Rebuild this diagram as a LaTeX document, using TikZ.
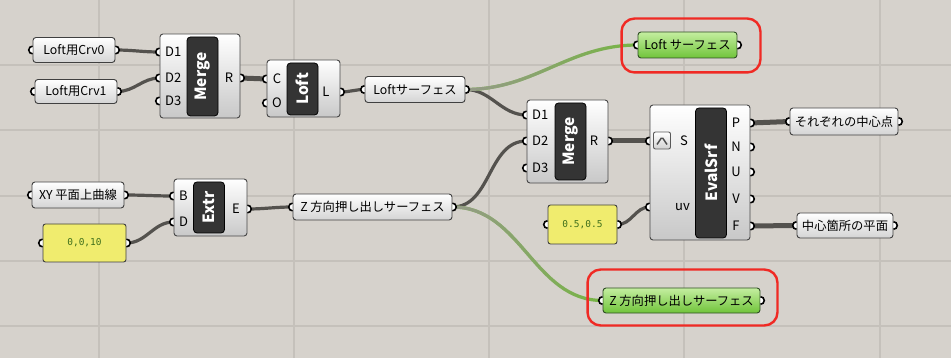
\documentclass[tikz,border=0pt]{standalone}
\usepackage{fontspec}
\setmainfont{Noto Sans CJK JP}
\newfontfamily\numfont{DejaVu Sans Mono}
\usetikzlibrary{calc,fadings}

\definecolor{canvas}{RGB}{214,210,204}
\definecolor{gridc}{RGB}{197,193,187}
\definecolor{wirec}{RGB}{84,82,78}
\definecolor{wiregreen}{RGB}{118,182,66}
\definecolor{wiregray}{RGB}{150,154,138}
\definecolor{panelbot}{RGB}{212,212,212}
\definecolor{compbot}{RGB}{200,200,200}
\definecolor{barc}{RGB}{52,52,52}
\definecolor{yelc}{RGB}{240,236,110}
\definecolor{numc}{RGB}{64,112,28}
\definecolor{greentop}{RGB}{196,238,160}
\definecolor{greenbot}{RGB}{112,196,58}
\definecolor{greenedge}{RGB}{48,78,38}
\definecolor{hilitec}{RGB}{240,42,36}

\tikzfading[name=wirefade, left color=transparent!0, right color=transparent!100]

\tikzset{
  gridline/.style={draw=gridc, line width=1.3pt},
  panel/.style={draw=black!75, line width=0.9pt, rounded corners=3pt, top color=white, bottom color=panelbot,
    minimum height=25, inner sep=0pt, font=\fontsize{12.3}{14}\selectfont},
  outpanel/.style={panel, draw=greenedge, top color=greentop, bottom color=greenbot},
  numpanel/.style={draw=black!75, line width=0.9pt, rounded corners=2.5pt, fill=yelc, inner sep=0pt,
    text=numc, font=\numfont\fontsize{9.5}{11}\selectfont},
  comp/.style={draw=black!72, line width=0.9pt, rounded corners=3pt, top color=white, bottom color=compbot, inner sep=0pt},
  nick/.style={fill=barc, draw=black, line width=0.8pt, rounded corners=3.5pt, inner sep=0pt, rotate=90,
    minimum height=31, text=white, font=\fontsize{15.5}{17}\selectfont\bfseries},
  port/.style={inner sep=0pt, font=\fontsize{13}{15}\selectfont},
  grip/.style={draw=black, line width=1.6pt, fill=white},
  wire/.style={draw=wirec, line width=3.2pt},
  thickwire/.style={draw=wirec, line width=5pt},
  greenwire/.style={draw=wiregreen, line width=3.2pt},
  hilite/.style={draw=hilitec, line width=2.4pt, rounded corners=13pt}
}

\newcommand\gripin[1]{\draw[grip] ([yshift=3.8pt]#1) arc[start angle=90,end angle=270,radius=3.8pt];}
\newcommand\gripout[1]{\draw[grip] ([yshift=3.8pt]#1) arc[start angle=90,end angle=-90,radius=3.8pt];}

\begin{document}
\begin{tikzpicture}[x=1pt,y=-1pt]
	\fill[canvas] (0,0) rectangle (951,358);
	\useasboundingbox (0,0) rectangle (951,358);
	\foreach \gx in {99,294,489,684,880}
		\draw[gridline] (\gx,0) -- (\gx,358);
	\foreach \gy in {65,130,196,261,326}
		\draw[gridline] (0,\gy) -- (951,\gy);
	
	% panels
	\node[panel, minimum width=82] (crv0) at (74,50) {Loft用Crv0};
	\node[panel, minimum width=82, minimum height=24] (crv1) at (76,91.5) {Loft用Crv1};
	\node[panel, minimum width=100, minimum height=26] (loftsurf) at (415,89.5) {Loftサーフェス};
	\node[panel, minimum width=92, minimum height=26] (xy) at (78,195) {XY 平面上曲線};
	\node[panel, minimum width=159, minimum height=26] (zsurf) at (372.5,207) {Z 方向押し出しサーフェス};
	\node[panel, minimum width=108, minimum height=27] (pts) at (844,121.5) {それぞれの中心点};
	\node[panel, minimum width=96] (pln) at (845,225.5) {中心箇所の平面};
	\node[outpanel, minimum width=99, minimum height=26] (gloft) at (687.5,45) {Loft サーフェス};
	\node[outpanel, minimum width=157] (gz) at (681.5,300.5) {Z 方向押し出しサーフェス};
	\node[numpanel, minimum width=83, minimum height=38] (vec) at (84.5,243) {0,0,10};
	\node[numpanel, minimum width=69, minimum height=39] (uvval) at (582.5,224.5) {0.5,0.5};
	
	% components
	\node[comp, minimum width=80, minimum height=84] (mrg1) at (200,76) {};
	\node[nick, minimum width=79] (mrg1bar) at (202.5,76.5) {Merge};
	\node[port, anchor=west] (m1d1) at (165,52) {D1};
	\node[port, anchor=west] (m1d2) at (165,78) {D2};
	\node[port, anchor=west] (m1d3) at (165,101) {D3};
	\node[port] (m1r) at (229,78) {R};
	
	\node[comp, minimum width=73, minimum height=57] (loft) at (303.5,88.5) {};
	\node[nick, minimum width=52] (loftbar) at (302.5,89) {Loft};
	\node[port] (lc) at (277,79) {C};
	\node[port] (lo) at (277,103) {O};
	\node[port] (ll) at (326,92) {L};
	
	\node[comp, minimum width=81, minimum height=83] (mrg2) at (567.5,141.5) {};
	\node[nick, minimum width=77] (mrg2bar) at (570.5,141.5) {Merge};
	\node[port, anchor=west] (m2d1) at (532,115) {D1};
	\node[port, anchor=west] (m2d2) at (532,141) {D2};
	\node[port, anchor=west] (m2d3) at (532,168) {D3};
	\node[port] (m2r) at (594,141) {R};
	
	\node[comp, minimum width=73, minimum height=57] (extr) at (210.5,207.5) {};
	\node[nick, minimum width=51] (extrbar) at (209,207.5) {Extr};
	\node[port, anchor=west] (eb) at (179,196) {B};
	\node[port, anchor=west] (ed) at (179,222) {D};
	\node[port] (ee) at (236,209) {E};
	
	\node[comp, minimum width=100, minimum height=135] (eval) at (700,172.5) {};
	\node[nick, minimum width=130] (evalbar) at (711,173) {EvalSrf};
	\node[draw=black!65, line width=0.9pt, top color=white, bottom color=black!18, rounded corners=2pt,
		minimum size=17, inner sep=0pt] (rep) at (662,140.5) {};
	\draw[black!70, line width=1.4pt, rounded corners=1.5pt] ($(rep.center)+(-5,4)$) -- ($(rep.center)+(0,-3.5)$) -- ($(rep.center)+(5,4)$);
	\node[port] (es) at (684,141) {S};
	\node[port, anchor=east] (euv) at (690,207) {uv};
	\node[port] (ep) at (736,123) {P};
	\node[port] (en) at (736,147) {N};
	\node[port] (eu) at (736,172) {U};
	\node[port] (ev) at (736,199) {V};
	\node[port] (ef) at (736,226) {F};
	
	% port points
	\foreach \c/\l in {mrg1/m1d1,mrg1/m1d2,mrg1/m1d3,loft/lc,loft/lo,mrg2/m2d1,mrg2/m2d2,mrg2/m2d3,extr/eb,extr/ed,eval/es,eval/euv}
		\coordinate (p\l) at (\c.west |- \l);
	\foreach \c/\l in {mrg1/m1r,loft/ll,mrg2/m2r,extr/ee,eval/ep,eval/en,eval/eu,eval/ev,eval/ef}
		\coordinate (p\l) at (\c.east |- \l);
	
	% wires
	\draw[wire] (crv0.east) to[out=0,in=180] (pm1d1);
	\draw[wire] (crv1.east) to[out=0,in=180] (pm1d2);
	\draw[thickwire] (pm1r) -- (plc);
	\draw[wire] (pll) to[out=0,in=180] (loftsurf.west);
	\draw[wire] (loftsurf.east) to[out=0,in=180] (pm2d1);
	\draw[greenwire] (loftsurf.east) to[out=0,in=180] (gloft.west);
	\draw[greenwire, draw=wiregray, path fading=wirefade] (loftsurf.east) to[out=0,in=180] (gloft.west);
	\draw[wire] (xy.east) to[out=0,in=180] (peb);
	\draw[wire] (vec.east) to[out=0,in=180] (ped);
	\draw[wire] (pee) to[out=0,in=180] (zsurf.west);
	\draw[wire] (zsurf.east) to[out=0,in=180] (pm2d2);
	\draw[greenwire] (zsurf.east) to[out=0,in=180] (gz.west);
	\draw[greenwire, draw=wiregray, path fading=wirefade] (zsurf.east) to[out=0,in=180] (gz.west);
	\draw[thickwire] (pm2r) -- (pes);
	\draw[wire] (uvval.east) to[out=0,in=180] (peuv);
	\draw[thickwire] (pep) -- (pts.west);
	\draw[thickwire] (pef) -- (pln.west);
	
	% grips
	\foreach \p in {crv0,crv1,loftsurf,xy,zsurf,pts,pln,gloft,gz,vec,uvval}
	{
		\gripin{\p.west}
		\gripout{\p.east}
	}
	\foreach \l in {m1d1,m1d2,m1d3,lc,lo,m2d1,m2d2,m2d3,eb,ed,es,euv}
	{
		\gripin{p\l}
	}
	\foreach \l in {m1r,ll,m2r,ee,ep,en,eu,ev,ef}
	{
		\gripout{p\l}
	}
	
	% highlights
	\draw[hilite] ($(gloft.north west)+(-16,-13)$) rectangle ($(gloft.south east)+(23,14)$);
	\draw[hilite] ($(gz.north west)+(-15,-18)$) rectangle ($(gz.south east)+(17,12)$);
\end{tikzpicture}
\end{document}
